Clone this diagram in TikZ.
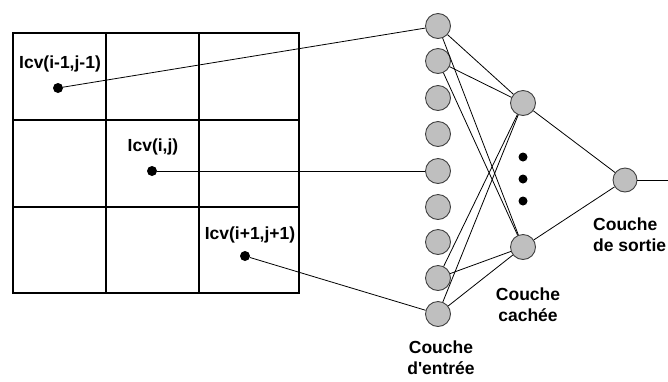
\documentclass[tikz,border=0pt]{standalone}
\usepackage{fontspec}
\setmainfont{Liberation Sans}
\newcommand{\straightquote}{\XeTeXglyph\XeTeXglyphindex "quotesingle"\relax}
\begin{document}
\begin{tikzpicture}[x=1pt,y=-1pt,
  neuron/.style={circle,draw=black!75,fill=black!25,line width=0.9pt,minimum size=25pt,inner sep=0pt},
  pt/.style={circle,fill=black,minimum size=10pt,inner sep=0pt},
  vdot/.style={circle,fill=black,minimum size=9pt,inner sep=0pt},
  conn/.style={draw=black,line width=0.8pt},
  gridline/.style={draw=black,line width=1.1pt},
  lbl/.style={font=\fontsize{17.5}{21}\selectfont\bfseries,inner sep=0pt,align=center}]
\useasboundingbox (0,0) rectangle (668,381);
% grid
\draw[gridline] (13,33) rectangle (299,293);
\draw[gridline] (106,33) -- (106,293) (199,33) -- (199,293)
  (13,120) -- (299,120) (13,207) -- (299,207);
% labels in grid
\node[lbl,anchor=base] (l1) at (60,68) {Icv(i-1,j-1)};
\node[lbl,anchor=base] (l2) at (153,151) {Icv(i,j)};
\node[lbl,anchor=base] (l3) at (250,239) {Icv(i+1,j+1)};
% points
\node[pt] (d1) at (58,88) {};
\node[pt] (d2) at (152,171) {};
\node[pt] (d3) at (245,256) {};
% input layer
\node[neuron] (in1) at (438,26) {};
\node[neuron] (in2) at (438,61) {};
\node[neuron] (in3) at (438,98) {};
\node[neuron] (in4) at (438,134) {};
\node[neuron] (in5) at (438,171) {};
\node[neuron] (in6) at (438,207) {};
\node[neuron] (in7) at (438,242) {};
\node[neuron] (in8) at (438,278) {};
\node[neuron] (in9) at (438,314) {};
% hidden layer
\node[neuron] (h1) at (523,103) {};
\node[neuron] (h2) at (523,247) {};
\node[vdot] (v1) at (523,157) {};
\node[vdot] (v2) at (523,179) {};
\node[vdot] (v3) at (523,201) {};
% output
\node[neuron,minimum size=24pt] (out) at (625,180) {};
\coordinate (outend) at (668,180);
% connections
\draw[conn] (d1) -- (in1);
\draw[conn] (d2) -- (in5);
\draw[conn] (d3) -- (in9);
\foreach \i in {in1,in2,in8,in9}{
  \draw[conn] (\i) -- (h1);
  \draw[conn] (\i) -- (h2);
}
\draw[conn] (h1) -- (out);
\draw[conn] (h2) -- (out);
\draw[conn] (out) -- (outend);
% layer labels
\node[lbl] (le) at (441,358) {Couche\\d\straightquote entrée};
\node[lbl] (lc) at (528,305) {Couche\\cachée};
\node[lbl,anchor=west,align=left] (ls) at (593,235) {Couche\\de sortie};
\end{tikzpicture}
\end{document}
